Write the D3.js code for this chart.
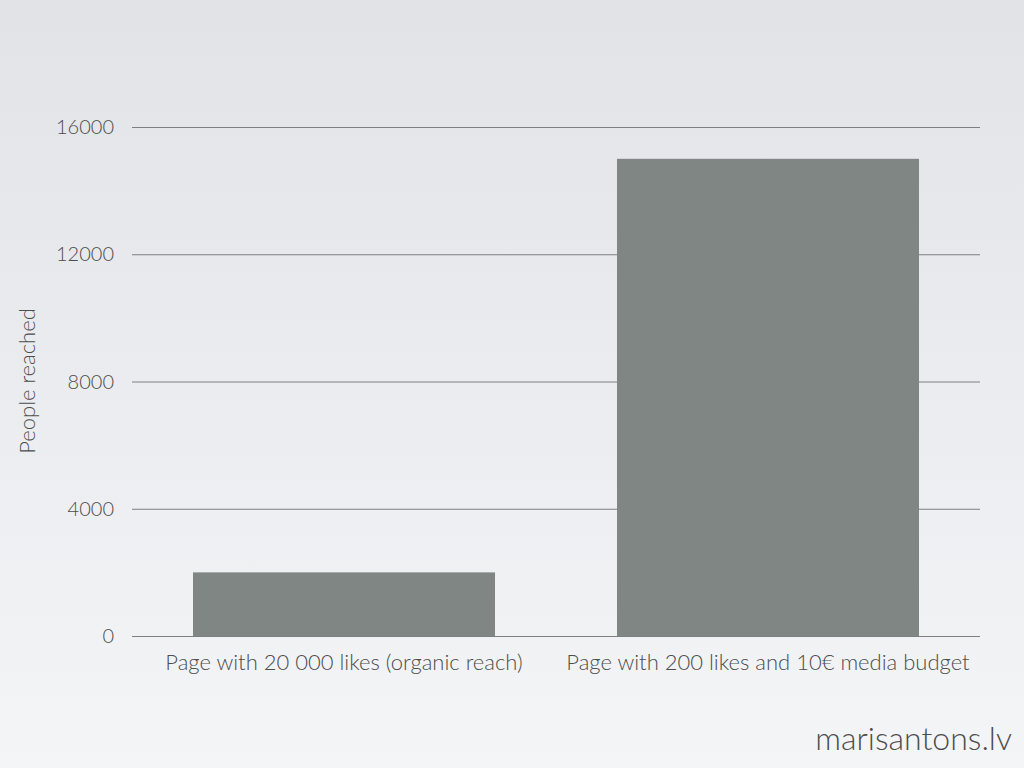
<!DOCTYPE html>
<html><head><meta charset="utf-8">
<script src="https://cdn.jsdelivr.net/npm/d3@7"></script>
<style>body{margin:0;padding:0;overflow:hidden}svg{display:block}</style>
</head><body>
<svg id="c" width="1024" height="768"></svg>
<script>
const categories = ["Page with 20 000 likes (organic reach)", "Page with 200 likes and 10€ media budget"];
const values = [2000, 15000];
const yTicks = [0, 4000, 8000, 12000, 16000];
const yTitle = "People reached";
const watermark = "marisantons.lv";

const svg = d3.select("#c");
const defs = svg.append("defs");
const g = defs.append("linearGradient").attr("id","bg").attr("x1",0).attr("y1",0).attr("x2",0).attr("y2",1);
g.append("stop").attr("offset","0%").attr("stop-color","#e1e3e7");
g.append("stop").attr("offset","100%").attr("stop-color","#f4f5f7");
svg.append("rect").attr("width",1024).attr("height",768).attr("fill","url(#bg)");

const font = "'Lato', 'Open Sans', sans-serif";
const x = d3.scaleBand().domain(categories).range([132, 980]).paddingInner(0.2877).paddingOuter(0.1439);
const y = d3.scaleLinear().domain([0, 16000]).range([636, 127]);

// gridlines
svg.append("g").selectAll("line").data(yTicks).join("line")
  .attr("x1",132).attr("x2",980).attr("y1",d=>y(d)+0.5).attr("y2",d=>y(d)+0.5)
  .attr("stroke","#7d7f80").attr("stroke-width",1);

// bars
svg.append("g").selectAll("rect").data(values).join("rect")
  .attr("x",(d,i)=>x(categories[i])).attr("width",x.bandwidth())
  .attr("y",d=>y(d)).attr("height",d=>y(0)-y(d))
  .attr("fill","#808683");

// baseline on top
svg.append("line").attr("x1",132).attr("x2",980).attr("y1",y(0)+0.5).attr("y2",y(0)+0.5).attr("stroke","#7d7f80");

// y tick labels
svg.append("g").selectAll("text").data(yTicks).join("text")
  .attr("x",114).attr("y",d=>y(d)+7).attr("text-anchor","end")
  .attr("font-family",font).attr("font-size",20).attr("font-weight",300).attr("fill","#4d4d4d")
  .text(d=>d);

// x labels
svg.append("g").selectAll("text").data(categories).join("text")
  .attr("x",d=>x(d)+x.bandwidth()/2).attr("y",670).attr("text-anchor","middle")
  .attr("font-family",font).attr("font-size",22).attr("font-weight",300).attr("fill","#4d4d4d")
  .text(d=>d);

// y title
svg.append("text").attr("transform","translate(35,381) rotate(-90)").attr("text-anchor","middle")
  .attr("font-family",font).attr("font-size",22).attr("font-weight",300).attr("fill","#4d4d4d")
  .text(yTitle);

// watermark
svg.append("text").attr("x",1012).attr("y",750).attr("text-anchor","end")
  .attr("font-family",font).attr("font-size",32).attr("font-weight",300).attr("fill","#4d4d4d")
  .text(watermark);
</script>
</body></html>
